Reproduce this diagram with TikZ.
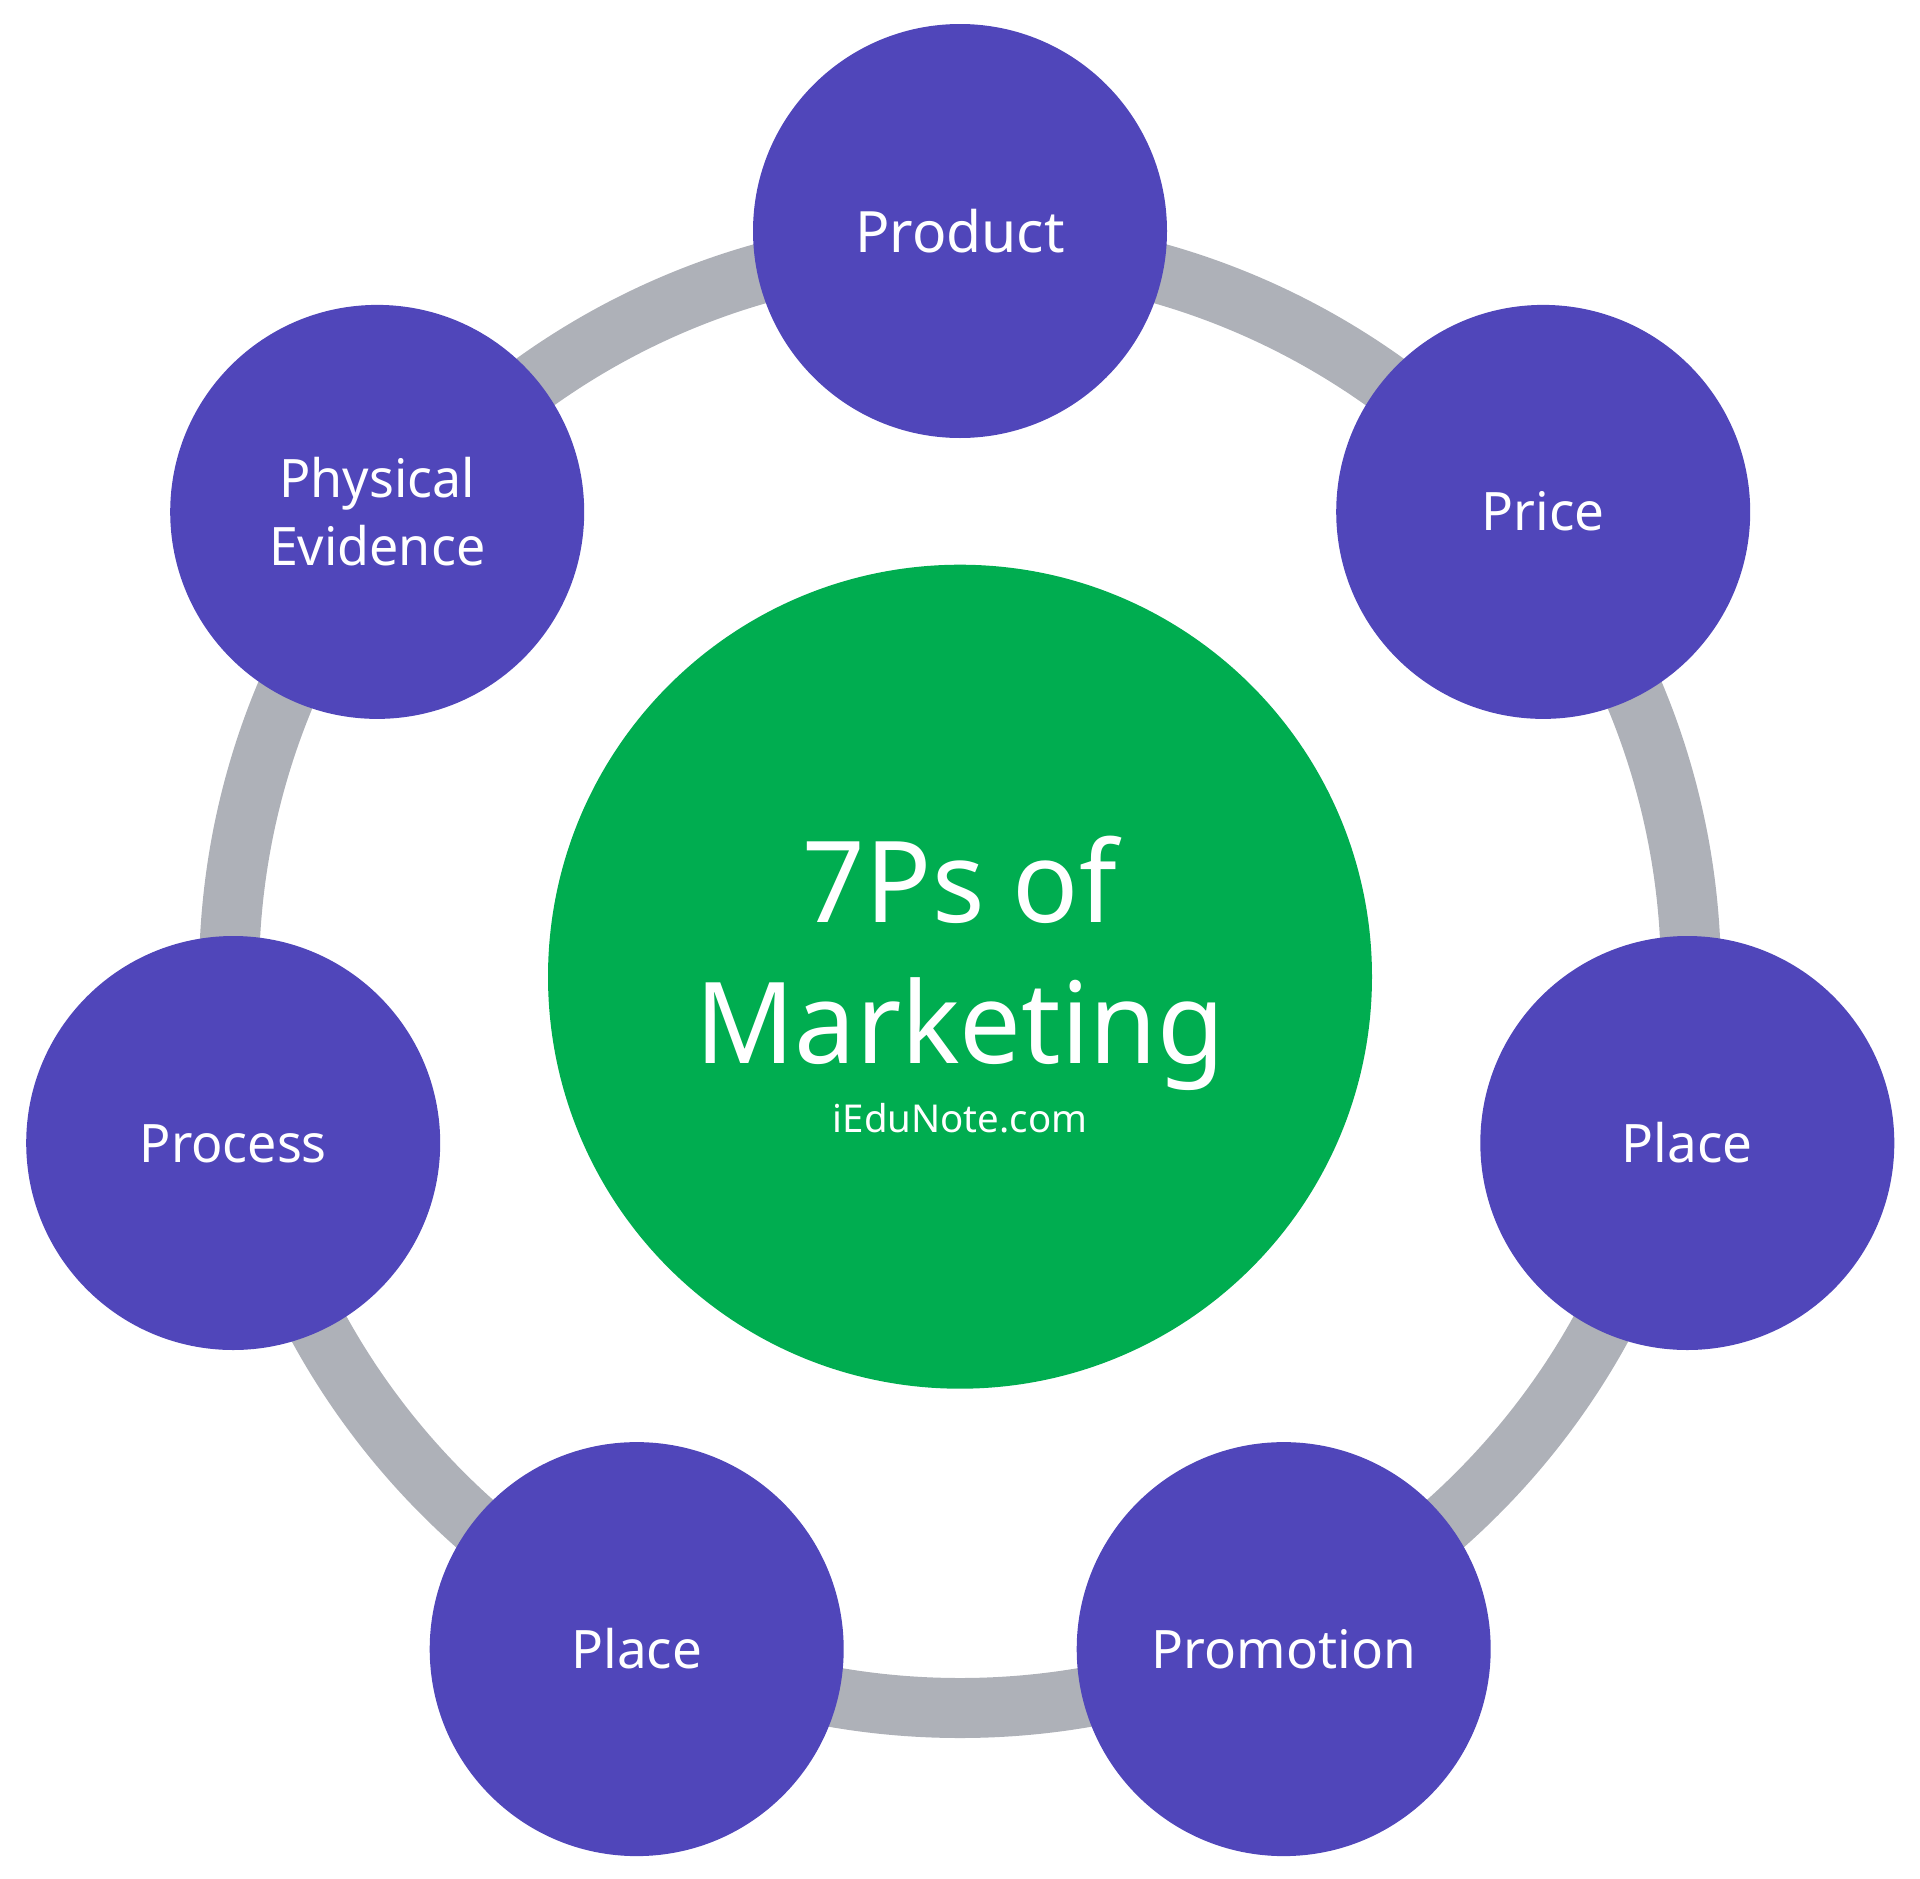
\documentclass[tikz,border=0pt]{standalone}
\usepackage{fontspec}
\setmainfont{Noto Sans}
\newfontfamily\narrowfont[FakeStretch=0.97]{Noto Sans}
\newfontfamily\slimfont[FakeStretch=0.98]{Noto Sans}
\definecolor{ringgray}{HTML}{AEB1B8}
\definecolor{pblue}{HTML}{5046BA}
\definecolor{cgreen}{HTML}{00AD50}
\tikzset{
  pnode/.style={circle,fill=pblue,draw=none,minimum size=414pt,inner sep=0pt,text=white,align=center,
    font=\fontsize{53}{68}\selectfont},
  single/.style={text height=38pt,text depth=0pt},
  centre/.style={circle,fill=cgreen,draw=none,minimum size=824pt,inner sep=0pt},
  bigtext/.style={text=white,anchor=base,inner sep=0pt,font=\narrowfont\fontsize{113}{141}\selectfont},
  smalltext/.style={text=white,anchor=base,inner sep=0pt,font=\fontsize{38.4}{46}\selectfont},
  ring/.style={draw=ringgray,line width=60pt}
}
\begin{document}
\begin{tikzpicture}[x=1pt,y=-1pt]
\useasboundingbox (0,0) rectangle (1920,1879);
\coordinate (hub) at (960,977);
\draw[ring] (hub) circle[radius=731pt];
\node[centre] (core) at (960,976.7) {};
\node[bigtext] (t1) at (960,922.7) {7Ps of};
\node[bigtext] (t2) at (960,1063) {Marketing};
\node[smalltext] (t3) at (960,1132) {iEduNote.com};
\node[pnode,single,text height=42pt,font=\fontsize{57}{68}\selectfont] (product) at (960,231) {Product};
\node[pnode,single] (price) at (1543.2,511.9) {Price};
\node[pnode,single] (placeA) at (1687.3,1143) {Place};
\node[pnode,single] (promotion) at (1283.7,1649.1) {Promotion};
\node[pnode,single] (placeB) at (636.7,1649.1) {Place};
\node[pnode,single,font=\slimfont\fontsize{53}{68}\selectfont] (process) at (233.2,1143) {Process};
\node[pnode,font=\slimfont\fontsize{53}{68}\selectfont] (physical) at (377.2,511.9) {Physical\\Evidence};
\end{tikzpicture}
\end{document}
